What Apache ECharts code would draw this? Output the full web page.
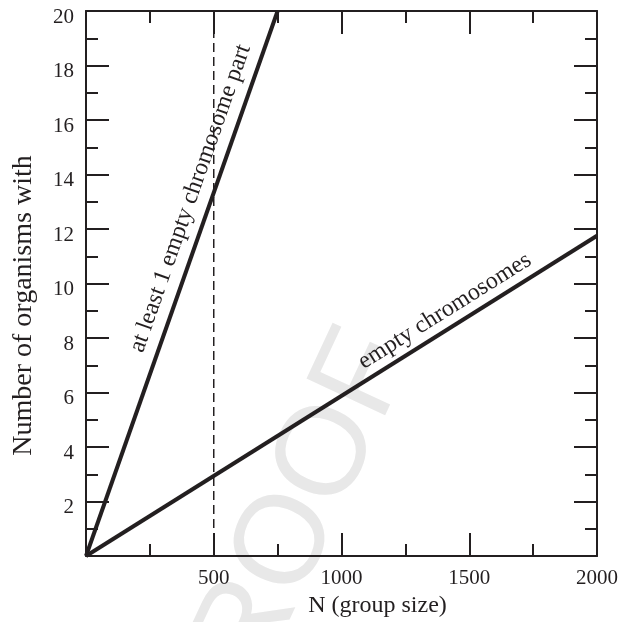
<!DOCTYPE html>
<html>
<head>
<meta charset="utf-8">
<script src="https://cdn.jsdelivr.net/npm/echarts@6/dist/echarts.min.js"></script>
<style>
html,body{margin:0;padding:0;background:#fff;}
#main{width:629px;height:622px;}
</style>
</head>
<body>
<div id="main"></div>
<script>
// 数据
var partN = [0, 750];
var partCount = [0, 20];
var emptyN = [0, 2000];
var emptyCount = [0, 11.75];
var cutoffN = [500, 500];
var cutoffCount = [0, 20];
var xTicks = [500, 1000, 1500, 2000];
var yTicks = [2, 4, 6, 8, 10, 12, 14, 16, 18, 20];
var lineNames = ['at least 1 empty chromosome part', 'empty chromosomes'];
var labelAt = [483, 1440];   // N where each label sits along its line

var ink = '#231f20';
var serif = 'Liberation Serif';

function pairs(xs, ys){
	return xs.map(function(x, i){ return [x, ys[i]]; });
}

function frameAxis(isX, pos, showLabel){
	var ax = {
		type:'value',
		position:pos,
		min:0,
		max:isX ? 2000 : 20,
		interval:isX ? 500 : 2,
		axisLine:{onZero:false, lineStyle:{color:ink, width:2}},
		axisTick:{inside:true, length:23, lineStyle:{color:ink, width:2}},
		minorTick:{show:true, splitNumber:2, length:12, lineStyle:{color:ink, width:2}},
		splitLine:{show:false},
		axisLabel:{show:false}
	};
	if(showLabel){
		var list = isX ? xTicks : yTicks;
		ax.axisLabel = {
			show:true,
			fontFamily:serif,
			fontSize:21,
			color:ink,
			margin:12,
			formatter:function(v){ return list.indexOf(v) >= 0 ? String(v) : ''; }
		};
		if(!isX){
			// 数字稍微往下
			ax.axisLabel.verticalAlign = 'top';
			ax.axisLabel.lineHeight = 12;
		}
	}
	return ax;
}

var myChart = echarts.init(document.getElementById('main'));

var xBottom = frameAxis(true, 'bottom', true);
xBottom.name = 'N (group size)';
xBottom.nameLocation = 'middle';
xBottom.nameGap = 36;
xBottom.nameTextStyle = {fontFamily:serif, fontSize:24, color:ink, padding:[0,0,0,72]};

var yLeft = frameAxis(false, 'left', true);
yLeft.name = 'Number of organisms with';
yLeft.nameLocation = 'middle';
yLeft.nameGap = 48;
yLeft.nameTextStyle = {fontFamily:serif, fontSize:28, color:ink, padding:[0,44,0,0]};

var option = {
	animation:false,
	backgroundColor:'#fff',
	grid:{left:86, right:32, top:11, bottom:66, outerBoundsMode:'none', containLabel:false},
	xAxis:[xBottom, frameAxis(true, 'top', false)],
	yAxis:[yLeft, frameAxis(false, 'right', false)],
	series:[
		{
			name:lineNames[0], type:'line', data:pairs(partN, partCount),
			showSymbol:false, silent:true, z:5,
			lineStyle:{color:ink, width:4}
		},
		{
			name:lineNames[1], type:'line', data:pairs(emptyN, emptyCount),
			showSymbol:false, silent:true, z:5,
			lineStyle:{color:ink, width:4}
		},
		{
			name:'cutoff', type:'line', data:pairs(cutoffN, cutoffCount),
			showSymbol:false, silent:true, z:4,
			lineStyle:{color:ink, width:1.5, type:[9,5]}
		}
	]
};
myChart.setOption(option);

// 线上的文字, 按坐标换算
var lines = [[partN, partCount, 20], [emptyN, emptyCount, 17]];
var elements = [{
	type:'text', x:287, y:543, rotation:65 * Math.PI / 180, z:-10, silent:true,
	style:{text:'PROOF', fontFamily:'Liberation Sans', fontSize:126, fill:'#e8e8e8', align:'center', verticalAlign:'middle'}
}];
lines.forEach(function(l, i){
	var p0 = myChart.convertToPixel({xAxisIndex:0, yAxisIndex:0}, [l[0][0], l[1][0]]);
	var p1 = myChart.convertToPixel({xAxisIndex:0, yAxisIndex:0}, [l[0][1], l[1][1]]);
	var a = Math.atan2(-(p1[1] - p0[1]), p1[0] - p0[0]);
	var n = labelAt[i];
	var c = n * (l[1][1] - l[1][0]) / (l[0][1] - l[0][0]);
	var p = myChart.convertToPixel({xAxisIndex:0, yAxisIndex:0}, [n, c]);
	elements.push({
		type:'text',
		x:p[0] - l[2] * Math.sin(a),
		y:p[1] - l[2] * Math.cos(a),
		rotation:a, z:100, silent:true,
		style:{text:lineNames[i], fontFamily:serif, fontSize:24, fill:ink, align:'center', verticalAlign:'middle'}
	});
});
myChart.setOption({graphic:{elements:elements}});
</script>
</body>
</html>
